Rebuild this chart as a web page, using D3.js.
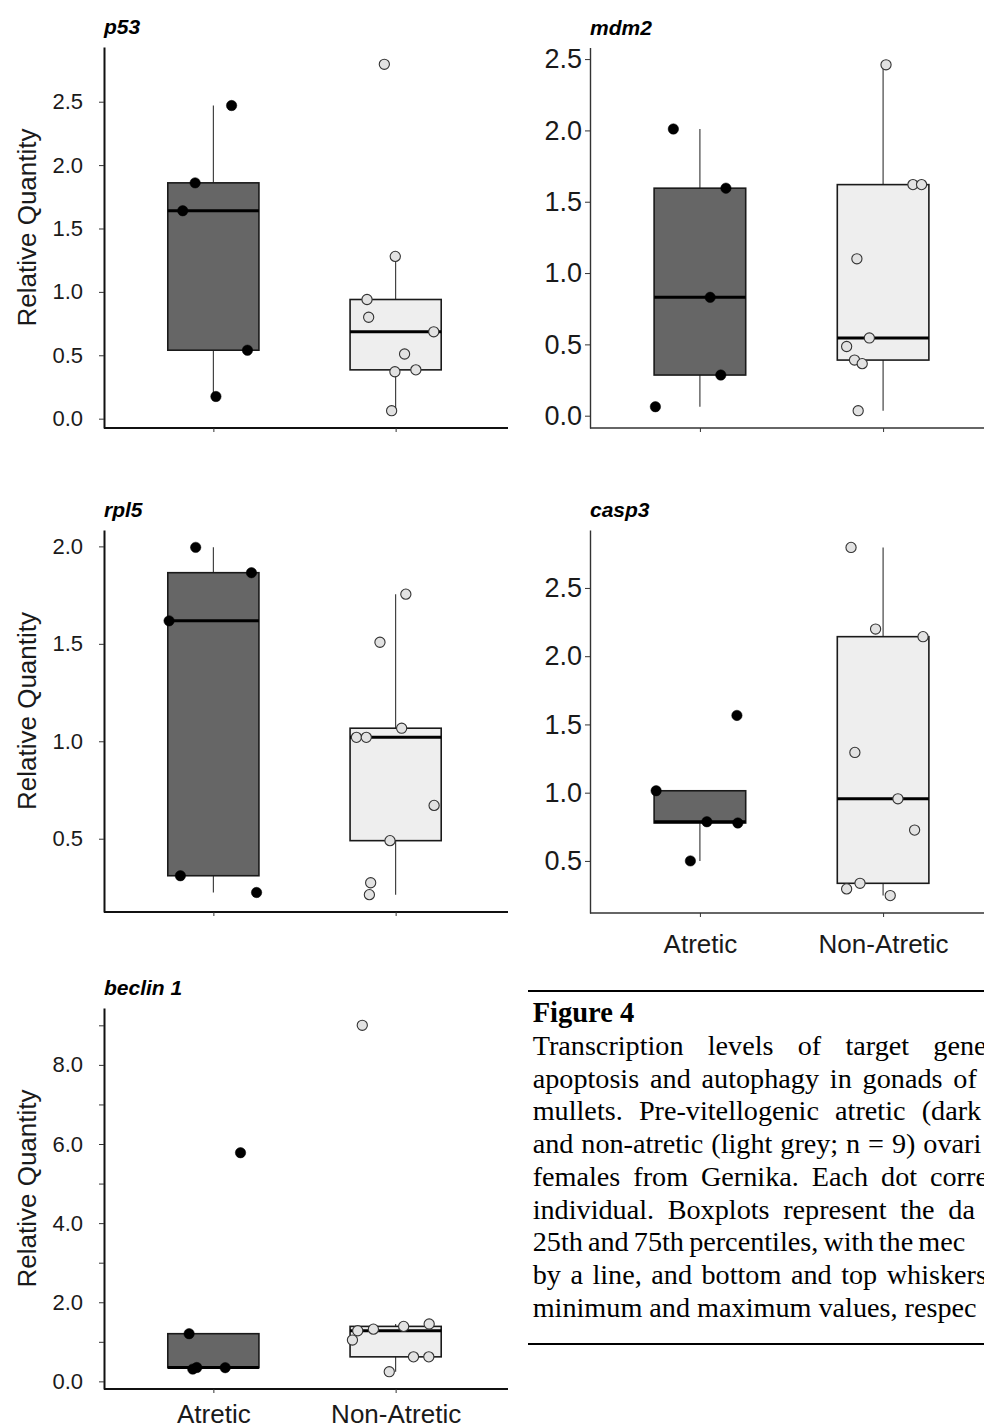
<!DOCTYPE html>
<html>
<head>
<meta charset="utf-8">
<script src="https://cdn.jsdelivr.net/npm/d3@7"></script>
<style>
  body { margin: 0; background: #ffffff; }
  svg { display: block; }
</style>
</head>
<body>
<svg id="chart" width="984" height="1428"></svg>
<script>
// ---------------- DATA ----------------
const categories = ["Atretic", "Non-Atretic"];
const genes = ["p53", "mdm2", "rpl5", "casp3", "beclin 1"];

// p53
const p53Atretic = [2.47, 1.86, 1.64, 0.54, 0.175];
const p53AtreticJitter = [0.10, -0.10, -0.168, 0.187, 0.014];
const p53NonAtretic = [2.795, 1.28, 0.94, 0.80, 0.685, 0.51, 0.37, 0.385, 0.063];
const p53NonAtreticJitter = [-0.062, -0.002, -0.157, -0.148, 0.209, 0.049, -0.004, 0.111, -0.022];
const p53Ticks = [0, 0.5, 1.0, 1.5, 2.0, 2.5];
const p53TickLabels = ["0.0", "0.5", "1.0", "1.5", "2.0", "2.5"];

// mdm2
const mdm2Atretic = [2.01, 1.595, 0.83, 0.285, 0.063];
const mdm2AtreticJitter = [-0.145, 0.142, 0.056, 0.114, -0.243];
const mdm2NonAtretic = [2.46, 1.62, 1.62, 1.10, 0.545, 0.485, 0.39, 0.365, 0.035];
const mdm2NonAtreticJitter = [0.016, 0.163, 0.210, -0.143, -0.075, -0.199, -0.156, -0.114, -0.136];
const mdm2Ticks = [0, 0.5, 1.0, 1.5, 2.0, 2.5];
const mdm2TickLabels = ["0.0", "0.5", "1.0", "1.5", "2.0", "2.5"];

// rpl5
const rpl5Atretic = [1.995, 1.865, 1.618, 0.31, 0.224];
const rpl5AtreticJitter = [-0.097, 0.209, -0.243, -0.181, 0.237];
const rpl5NonAtretic = [1.755, 1.508, 1.067, 1.02, 1.02, 0.671, 0.49, 0.274, 0.213];
const rpl5NonAtreticJitter = [0.056, -0.086, 0.033, -0.215, -0.161, 0.211, -0.031, -0.137, -0.144];
const rpl5Ticks = [0.5, 1.0, 1.5, 2.0];
const rpl5TickLabels = ["0.5", "1.0", "1.5", "2.0"];

// casp3
const casp3Atretic = [1.014, 1.566, 0.787, 0.778, 0.5];
const casp3AtreticJitter = [-0.239, 0.202, 0.038, 0.207, -0.052];
const casp3NonAtretic = [2.797, 2.199, 2.143, 1.295, 0.955, 0.726, 0.336, 0.295, 0.246];
const casp3NonAtreticJitter = [-0.175, -0.041, 0.218, -0.154, 0.081, 0.172, -0.126, -0.199, 0.039];
const casp3Ticks = [0.5, 1.0, 1.5, 2.0, 2.5];
const casp3TickLabels = ["0.5", "1.0", "1.5", "2.0", "2.5"];

// beclin 1
const beclinAtretic = [5.78, 1.205, 0.31, 0.35, 0.346];
const beclinAtreticJitter = [0.149, -0.133, -0.113, -0.091, 0.065];
const beclinNonAtretic = [9.0, 1.45, 1.39, 1.32, 1.28, 1.045, 0.62, 0.62, 0.245];
const beclinNonAtreticJitter = [-0.183, 0.184, 0.044, -0.122, -0.208, -0.237, 0.098, 0.182, -0.035];
const beclinTicks = [0, 1, 2, 3, 4, 5, 6, 7, 8, 9];
const beclinTickLabels = ["0.0", "", "2.0", "", "4.0", "", "6.0", "", "8.0", ""];

const yAxisTitle = "Relative Quantity";

const captionTitle = "Figure 4";
const captionLines = [
  "Transcription levels of target gene",
  "apoptosis and autophagy in gonads of",
  "mullets. Pre-vitellogenic atretic (dark",
  "and non-atretic (light grey; n = 9) ovari",
  "females from Gernika. Each dot corre",
  "individual. Boxplots represent the da",
  "25th and 75th percentiles, with the mec",
  "by a line, and bottom and top whiskers",
  "minimum and maximum values, respec"
];

// ---------------- LAYOUT / STYLE ----------------
const svg = d3.select("#chart");
const SANS = "'Liberation Sans', Arial, Helvetica, sans-serif";
const SERIF = "'Liberation Serif', 'Times New Roman', Times, serif";
const darkFill = "#666666", lightFill = "#eeeeee";

const panels = [
  { title: genes[0], a: p53Atretic, aj: p53AtreticJitter, n: p53NonAtretic, nj: p53NonAtreticJitter,
    ticks: p53Ticks, labels: p53TickLabels, x0: 104, x1: 505, top: 47, bottom: 428, left: true, xLabels: false, xPad: 19 },
  { title: genes[1], a: mdm2Atretic, aj: mdm2AtreticJitter, n: mdm2NonAtretic, nj: mdm2NonAtreticJitter,
    ticks: mdm2Ticks, labels: mdm2TickLabels, x0: 590, x1: 993, top: 47.5, bottom: 428, left: false, xLabels: false, xPad: 19 },
  { title: genes[2], a: rpl5Atretic, aj: rpl5AtreticJitter, n: rpl5NonAtretic, nj: rpl5NonAtreticJitter,
    ticks: rpl5Ticks, labels: rpl5TickLabels, x0: 104, x1: 505, top: 530, bottom: 912, left: true, xLabels: false, xPad: 19 },
  { title: genes[3], a: casp3Atretic, aj: casp3AtreticJitter, n: casp3NonAtretic, nj: casp3NonAtreticJitter,
    ticks: casp3Ticks, labels: casp3TickLabels, x0: 590, x1: 993, top: 530, bottom: 913, left: false, xLabels: true, xPad: 18 },
  { title: genes[4], a: beclinAtretic, aj: beclinAtreticJitter, n: beclinNonAtretic, nj: beclinNonAtreticJitter,
    ticks: beclinTicks, labels: beclinTickLabels, x0: 104, x1: 505, top: 1008, bottom: 1389, left: true, xLabels: true, xPad: 12 }
];

function boxStats(values) {
  const s = d3.sort(values);
  const q1 = d3.quantileSorted(s, 0.25);
  const med = d3.quantileSorted(s, 0.5);
  const q3 = d3.quantileSorted(s, 0.75);
  const iqr = q3 - q1;
  const lo = d3.min(s.filter(v => v >= q1 - 1.5 * iqr));
  const hi = d3.max(s.filter(v => v <= q3 + 1.5 * iqr));
  return { q1, med, q3, lo, hi };
}

panels.forEach(p => {
  const g = svg.append("g");
  const all = p.a.concat(p.n);
  const [mn, mx] = d3.extent(all);
  const pad = (mx - mn) * 0.05;
  const y = d3.scaleLinear().domain([mn - pad, mx + pad]).range([p.bottom, p.top]);
  const x = d3.scalePoint().domain(categories).range([p.x0, p.x1]).padding(0.6);
  const step = x.step();
  const bw = step * 0.5;

  const axisColor = p.left ? "#111111" : "#333333";
  const axisW = p.left ? 2 : 1.4;

  // Y axis
  const yAxis = d3.axisLeft(y).tickValues(p.ticks).tickFormat((d, i) => p.labels[i])
    .tickSize(5).tickSizeOuter(0).tickPadding(p.left ? 16 : 3);
  const ya = g.append("g").attr("transform", `translate(${p.x0},0)`).call(yAxis);
  ya.select(".domain").attr("stroke", axisColor).attr("stroke-width", axisW);
  ya.selectAll(".tick line").attr("stroke", "#333").attr("stroke-width", 1);
  ya.selectAll(".tick text").attr("font-size", p.left ? 22 : 27).attr("font-family", SANS).attr("fill", "#1a1a1a");

  // X axis
  const xAxis = d3.axisBottom(x).tickSize(4).tickSizeOuter(0).tickPadding(p.xPad)
    .tickFormat(d => p.xLabels ? d : "");
  const xa = g.append("g").attr("transform", `translate(0,${p.bottom})`).call(xAxis);
  xa.select(".domain").attr("stroke", axisColor).attr("stroke-width", axisW)
    .attr("d", `M${p.x0},0H${p.left ? p.x1 + 3 : p.x1}`);
  xa.selectAll(".tick line").attr("stroke", "#333").attr("stroke-width", 1);
  xa.selectAll(".tick text").attr("font-size", 26).attr("font-family", SANS).attr("fill", "#1a1a1a");

  // Title
  g.append("text").attr("x", p.x0).attr("y", p.top - 13)
    .attr("font-family", SANS).attr("font-size", 21).attr("font-weight", "bold")
    .attr("font-style", "italic").attr("fill", "#000").text(p.title);

  // Y axis title
  if (p.left) {
    g.append("text")
      .attr("transform", `translate(36,${(p.top + p.bottom) / 2 - 10}) rotate(-90)`)
      .attr("text-anchor", "middle").attr("font-family", SANS).attr("font-size", 26)
      .attr("fill", "#1a1a1a").text(yAxisTitle);
  }

  const groups = [
    { cat: categories[0], vals: p.a, jit: p.aj, fill: darkFill, dark: true },
    { cat: categories[1], vals: p.n, jit: p.nj, fill: lightFill, dark: false }
  ];

  groups.forEach(gr => {
    const st = boxStats(gr.vals);
    const cx = x(gr.cat);
    // whiskers
    g.append("line").attr("x1", cx).attr("x2", cx).attr("y1", y(st.q3)).attr("y2", y(st.hi))
      .attr("stroke", "#333").attr("stroke-width", 1.1);
    g.append("line").attr("x1", cx).attr("x2", cx).attr("y1", y(st.q1)).attr("y2", y(st.lo))
      .attr("stroke", "#333").attr("stroke-width", 1.1);
    // box
    g.append("rect").attr("x", cx - bw / 2).attr("width", bw)
      .attr("y", y(st.q3)).attr("height", y(st.q1) - y(st.q3))
      .attr("fill", gr.fill).attr("stroke", "#1a1a1a").attr("stroke-width", 1.6);
    // median
    g.append("line").attr("x1", cx - bw / 2).attr("x2", cx + bw / 2)
      .attr("y1", y(st.med)).attr("y2", y(st.med))
      .attr("stroke", "#000").attr("stroke-width", 3);
  });

  groups.forEach(gr => {
    const cx = x(gr.cat);
    g.selectAll(null).data(gr.vals).enter().append("circle")
      .attr("cx", (d, i) => cx + gr.jit[i] * step)
      .attr("cy", d => y(d))
      .attr("r", gr.dark ? 5.2 : 5.1)
      .attr("fill", gr.dark ? "#000" : "#e2e2e2")
      .attr("stroke", gr.dark ? "#000" : "#333")
      .attr("stroke-width", gr.dark ? 0.5 : 1.1);
  });
});

// ---------------- CAPTION ----------------
const capLeft = 532.7;
const capLastWordX = [933.3, 953.3, 921.7, 923.3, 930, 948.3, 918.3, 886.7];
const capG = svg.append("g").attr("font-family", SERIF).attr("fill", "#000");

capG.append("line").attr("x1", 528).attr("x2", 984).attr("y1", 991).attr("y2", 991)
  .attr("stroke", "#000").attr("stroke-width", 2);
capG.append("line").attr("x1", 528).attr("x2", 984).attr("y1", 1344).attr("y2", 1344)
  .attr("stroke", "#000").attr("stroke-width", 2);

capG.append("text").attr("x", capLeft).attr("y", 1022)
  .attr("font-size", 28.5).attr("font-weight", "bold").text(captionTitle);

captionLines.forEach((line, i) => {
  const yPos = 1055 + i * 32.7;
  const t = capG.append("text").attr("y", yPos).attr("font-size", 28.2);
  if (i >= capLastWordX.length) {
    t.attr("x", capLeft).text(line);
    return;
  }
  const words = line.split(" ");
  const spans = words.map(w => t.append("tspan").text(w));
  const widths = spans.map(s => s.node().getComputedTextLength());
  const used = d3.sum(widths.slice(0, -1));
  const gap = (capLastWordX[i] - capLeft - used) / (words.length - 1);
  let cx = capLeft;
  spans.forEach((s, k) => {
    s.attr("x", cx);
    cx += widths[k] + gap;
  });
});
</script>
</body>
</html>
